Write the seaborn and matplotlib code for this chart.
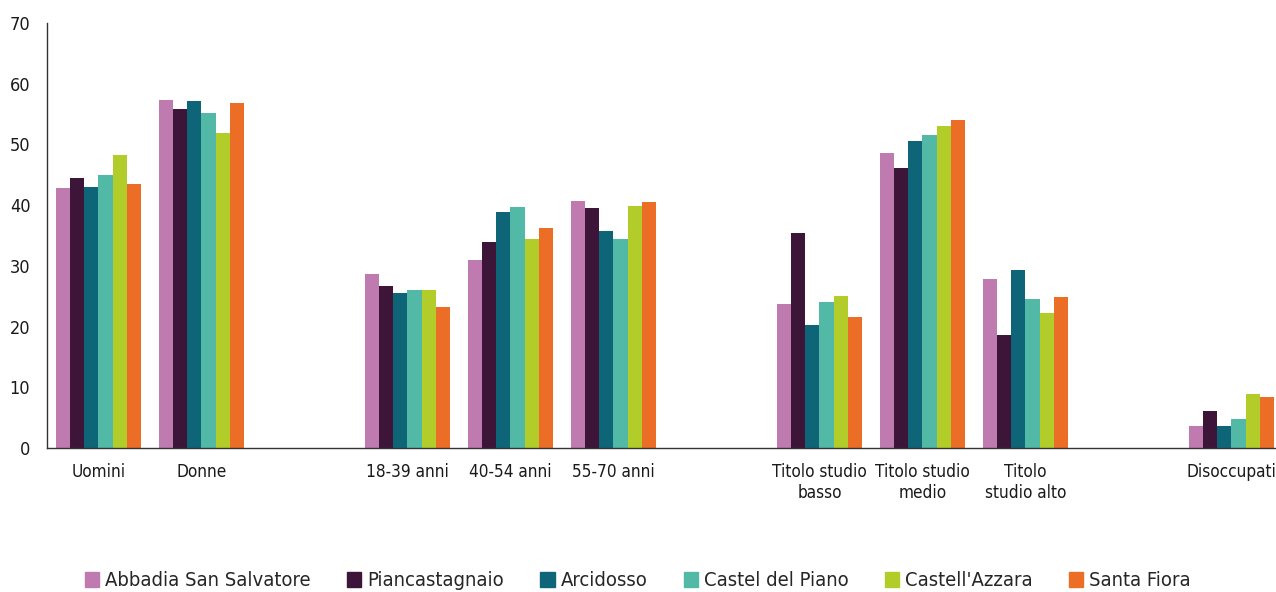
import pandas as pd
import seaborn as sns
import matplotlib.pyplot as plt
from matplotlib.ticker import FixedLocator

# data
categories = ["Uomini", "Donne", "18-39 anni", "40-54 anni", "55-70 anni",
              "Titolo studio basso", "Titolo studio medio", "Titolo studio alto",
              "Disoccupati"]
# empty slots in the reference between the groups
slots = ["Uomini", "Donne", "_gap1", "18-39 anni", "40-54 anni", "55-70 anni", "_gap2",
         "Titolo studio basso", "Titolo studio medio", "Titolo studio alto", "_gap3",
         "Disoccupati"]
tick_labels = ["Uomini", "Donne", "", "18-39 anni", "40-54 anni", "55-70 anni", "",
               "Titolo studio\nbasso", "Titolo studio\nmedio", "Titolo\nstudio alto", "",
               "Disoccupati"]
comuni = ["Abbadia San Salvatore", "Piancastagnaio", "Arcidosso",
          "Castel del Piano", "Castell'Azzara", "Santa Fiora"]

abbadia = [42.8, 57.3, 28.7, 30.9, 40.7, 23.8, 48.6, 27.8, 3.6]
piancastagnaio = [44.5, 55.8, 26.7, 34.0, 39.5, 35.4, 46.2, 18.6, 6.1]
arcidosso = [43.0, 57.2, 25.6, 38.8, 35.8, 20.3, 50.6, 29.3, 3.7]
castel_del_piano = [45.0, 55.2, 26.0, 39.7, 34.5, 24.1, 51.6, 24.6, 4.8]
castell_azzara = [48.3, 51.9, 26.0, 34.4, 39.9, 25.1, 53.0, 22.2, 8.9]
santa_fiora = [43.5, 56.8, 23.3, 36.2, 40.6, 21.5, 54.0, 24.8, 8.4]

colors = ["#BF7BB0", "#3D1538", "#0E6577", "#53B9A7", "#B2CD2A", "#EC6D26"]

series = [abbadia, piancastagnaio, arcidosso, castel_del_piano, castell_azzara, santa_fiora]
rows = []
for name, vals in zip(comuni, series):
    for cat, v in zip(categories, vals):
        rows.append({"categoria": cat, "comune": name, "valore": v})
df = pd.DataFrame(rows)

sns.set_style("white")
plt.rcParams['font.family'] = ['DejaVu Sans']
plt.rcParams['font.stretch'] = 'condensed'

fig = plt.figure(figsize=(12.76, 5.92), dpi=100)
ax = fig.add_axes([47 / 1276, 1 - 448 / 592, 1236 / 1276, 425 / 592])

sns.barplot(data=df, x="categoria", y="valore", hue="comune", order=slots,
            hue_order=comuni, palette=colors, width=0.82, saturation=1,
            linewidth=0, ax=ax, legend=False)

ax.set_xlim(-0.5, len(slots) - 0.5)
ax.set_ylim(0, 70)
ax.set_yticks(range(0, 71, 10))
ax.set_xticks(range(len(slots)))
ax.set_xticklabels(tick_labels, fontsize=12.3, color="#1a1a1a")
ax.xaxis.set_minor_locator(FixedLocator([i - 0.5 for i in range(len(slots) + 1)]))
ax.tick_params(axis="x", which="major", length=0, pad=11)
ax.tick_params(axis="x", which="minor", length=6, width=1, color="#333333", direction="out")
ax.tick_params(axis="y", length=5, width=1, color="#333333", labelsize=13,
               labelcolor="#1a1a1a", pad=7)
ax.set_xlabel("")
ax.set_ylabel("")
for s in ["top", "right"]:
    ax.spines[s].set_visible(False)
for s in ["left", "bottom"]:
    ax.spines[s].set_color("#333333")
    ax.spines[s].set_linewidth(1)

handles = [plt.Rectangle((0, 0), 1, 1, color=c) for c in colors]
fig.legend(handles, comuni, loc="center", bbox_to_anchor=(0.5, 1 - 581 / 592),
           ncol=6, frameon=False, fontsize=14.5, handlelength=0.7, handleheight=0.7,
           handletextpad=0.3, columnspacing=1.8)

fig.savefig("out.png", dpi=100)
